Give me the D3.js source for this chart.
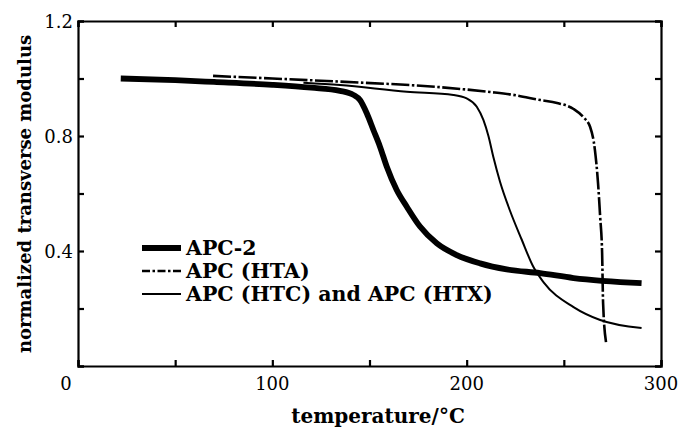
<!DOCTYPE html>
<html>
<head>
    <title>Normalized transverse modulus vs temperature</title>
    <script src="https://d3js.org/d3.v7.min.js"></script>
    <style>
        body { margin: 0; background: #fff; }
        text { font-family: "DejaVu Serif", "Liberation Serif", serif; fill: #000; }
    </style>
</head>
<body>
<script>
// temperature (°C) / normalized modulus pairs
const apc2Temp = [22, 50, 70, 100, 120, 134.8, 141.7, 145.1, 148.6, 152, 155.4, 158.9, 164, 169.2, 176, 184.6, 194.9, 206.9, 220.6, 237.8, 255, 290];
const apc2Mod  = [1.0, 0.994, 0.988, 0.978, 0.968, 0.957, 0.943, 0.925, 0.879, 0.821, 0.763, 0.693, 0.612, 0.554, 0.485, 0.427, 0.386, 0.357, 0.336, 0.323, 0.306, 0.288];

const htaTemp = [69.5, 100, 135, 186, 212, 224, 238, 246.5, 255, 260, 263.5, 266, 267.6, 268.7, 269.7, 270.2, 271.7];
const htaMod  = [1.009, 1.0, 0.989, 0.97, 0.953, 0.943, 0.925, 0.915, 0.894, 0.866, 0.832, 0.751, 0.636, 0.518, 0.393, 0.219, 0.083];

const htcTemp = [116, 134.8, 169.2, 193.2, 200, 205.2, 208.6, 211.2, 213.8, 217.2, 222.3, 228.3, 234.3, 239.5, 255, 268.7, 290];
const htcMod  = [0.985, 0.977, 0.954, 0.943, 0.931, 0.902, 0.856, 0.80, 0.725, 0.64, 0.54, 0.44, 0.345, 0.292, 0.205, 0.16, 0.132];

const legendLabels = ["APC-2", "APC (HTA)", "APC (HTC) and APC (HTX)"];
const xTickLabels = [0, 100, 200, 300];
const yTickLabels = [0.4, 0.8, 1.2];

const W = 681, H = 432;
const margin = {top: 21, right: 20, bottom: 66, left: 78};

const svg = d3.select("body").append("svg")
    .attr("width", W)
    .attr("height", H);

const x = d3.scaleLinear().domain([0, 300]).range([margin.left, W - margin.right]);
const y = d3.scaleLinear().domain([0, 1.2]).range([H - margin.bottom, margin.top]);

// frame with inward ticks on all four sides
const minorX = d3.range(0, 301, 50);
const minorY = d3.range(0, 1.21, 0.2);

svg.append("g")
    .attr("transform", `translate(0,${y(0)})`)
    .call(d3.axisBottom(x).tickValues(minorX).tickSize(-6).tickFormat(""));
svg.append("g")
    .attr("transform", `translate(0,${y(1.2)})`)
    .call(d3.axisTop(x).tickValues(minorX).tickSize(-6).tickFormat(""));
svg.append("g")
    .attr("transform", `translate(${x(0)},0)`)
    .call(d3.axisLeft(y).tickValues(minorY).tickSize(-6).tickFormat(""));
svg.append("g")
    .attr("transform", `translate(${x(300)},0)`)
    .call(d3.axisRight(y).tickValues(minorY).tickSize(-6).tickFormat(""));

svg.selectAll(".domain, .tick line").attr("stroke", "#000").attr("stroke-width", 2.2);

// tick labels
svg.selectAll(".xlab").data(xTickLabels).join("text")
    .attr("x", d => x(d) + (d === 0 ? -12 : 0))
    .attr("y", y(0) + 24)
    .attr("text-anchor", "middle")
    .style("font-size", "18px")
    .text(d => d);

svg.selectAll(".ylab").data(yTickLabels).join("text")
    .attr("x", x(0) - 5)
    .attr("y", d => y(d) + 6.5)
    .attr("text-anchor", "end")
    .style("font-size", "18px")
    .text(d => d3.format(".1f")(d));

// axis titles
svg.append("text")
    .attr("x", 378)
    .attr("y", 423)
    .attr("text-anchor", "middle")
    .style("font-size", "20px")
    .style("font-weight", "bold")
    .text("temperature/°C");

svg.append("text")
    .attr("transform", `translate(31,194) rotate(-90)`)
    .attr("text-anchor", "middle")
    .style("font-size", "18px")
    .style("font-weight", "bold")
    .text("normalized transverse modulus");

// curves
const line = d3.line()
    .x(d => x(d[0]))
    .y(d => y(d[1]))
    .curve(d3.curveMonotoneX);

const styles = [
    {w: 5.8, dash: null},
    {w: 2.6, dash: "18,2.5,2.5,2.5"},
    {w: 2, dash: null}
];
const series = [
    d3.zip(apc2Temp, apc2Mod),
    d3.zip(htaTemp, htaMod),
    d3.zip(htcTemp, htcMod)
];

series.forEach((s, i) => {
    svg.append("path")
        .datum(s)
        .attr("fill", "none")
        .attr("stroke", "#000")
        .attr("stroke-width", styles[i].w)
        .attr("stroke-dasharray", styles[i].dash)
        .attr("d", line);
});

// legend
const legend = svg.append("g");
legendLabels.forEach((lab, i) => {
    const ly = 248 + i * 23;
    legend.append("line")
        .attr("x1", 142).attr("x2", 181)
        .attr("y1", ly).attr("y2", ly)
        .attr("stroke", "#000")
        .attr("stroke-width", styles[i].w)
        .attr("stroke-dasharray", i === 1 ? "8,2.5,2.5,2.5" : null);
    legend.append("text")
        .attr("x", 186)
        .attr("y", ly + 7)
        .style("font-size", "20.5px")
        .style("font-weight", "bold")
        .text(lab);
});
</script>
</body>
</html>
